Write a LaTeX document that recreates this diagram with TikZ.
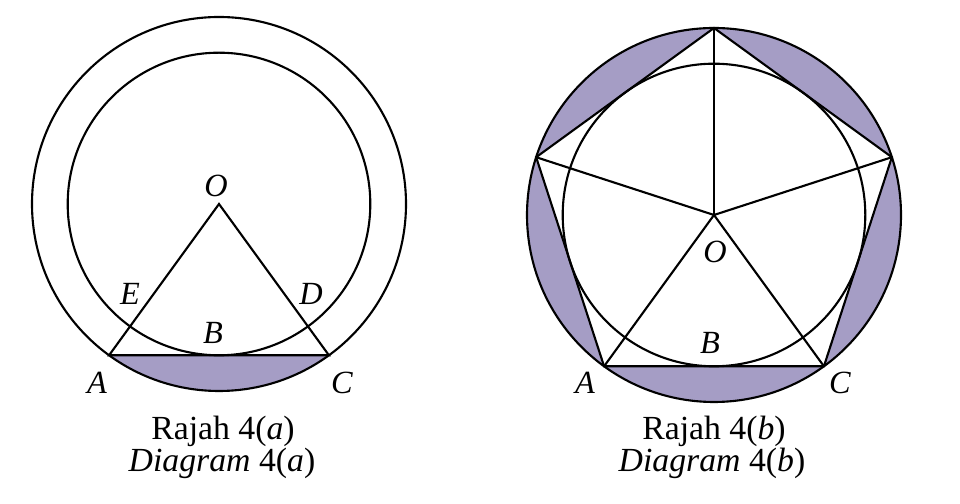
\documentclass[tikz,border=0pt]{standalone}
\usepackage{fontspec}
\setmainfont{Liberation Serif}
\definecolor{segshade}{RGB}{165,157,197}

\begin{document}
\begin{tikzpicture}[x=0.025cm,y=0.025cm,line width=1.5pt,
			lbl/.style = {font=\fontsize{23}{27}\selectfont\itshape, inner sep = 0pt},
			captext/.style = {font=\fontsize{24}{28}\selectfont, anchor=base, inner sep = 0pt}]
			
			\useasboundingbox (0,0) rectangle (960,504);
			
			% Rajah 4(a)
			\coordinate (O1) at (219,300);
			\coordinate (A1) at ([shift={(234:187)}]O1);
			\coordinate (C1) at ([shift={(306:187)}]O1);
			\fill[segshade] (A1) arc[start angle=234, end angle=306, radius=187] -- cycle;
			\draw (O1) circle (187);
			\draw (O1) circle (151.3);
			\draw (A1) -- (O1) -- (C1) -- cycle;
			
			\node[lbl] (o1) at (216,318) {O};
			\node[lbl] (e1) at (130,210) {E};
			\node[lbl] (d1) at (311,210) {D};
			\node[lbl] (b1) at (213,171) {B};
			\node[lbl] (a1) at (97,121) {A};
			\node[lbl] (c1) at (342,121) {C};
			
			% Rajah 4(b)
			\coordinate (O2) at (714,289);
			\foreach \i/\ang in {0/90,1/162,2/234,3/306,4/378} {
				\coordinate (P\i) at ([shift={(\ang:187)}]O2);
			}
			\foreach \i/\ang in {0/90,1/162,2/234,3/306,4/18} {
				\fill[segshade] (P\i) arc[start angle=\ang, delta angle=72, radius=187] -- cycle;
			}
			\draw (O2) circle (187);
			\draw (O2) circle (151.3);
			\draw (P0) -- (P1) -- (P2) -- (P3) -- (P4) -- cycle;
			\foreach \i in {0,...,4} {
				\draw (O2) -- (P\i);
			}
			
			\node[lbl] (o2) at (715,252) {O};
			\node[lbl] (b2) at (710,161) {B};
			\node[lbl] (a2) at (585,121) {A};
			\node[lbl] (c2) at (840,121) {C};
			
			% captions
			\node[captext] (r1) at (223,64) {Rajah 4(\textit{a})};
			\node[captext] (g1) at (222,32) {\textit{Diagram} 4(\textit{a})};
			\node[captext] (r2) at (714,64) {Rajah 4(\textit{b})};
			\node[captext] (g2) at (712,32) {\textit{Diagram} 4(\textit{b})};
			
			\end{tikzpicture}
\end{document}
